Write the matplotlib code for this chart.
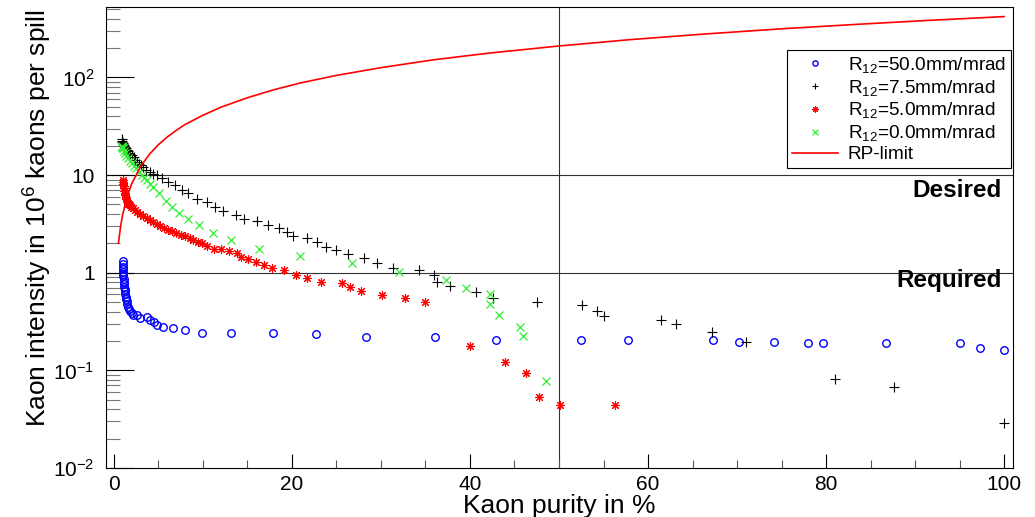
import numpy as np
import matplotlib
matplotlib.use("Agg")
import matplotlib.pyplot as plt
from matplotlib.ticker import FixedLocator, FixedFormatter, MultipleLocator, NullFormatter

plt.rcParams['font.family'] = ['Liberation Sans', 'DejaVu Sans']
plt.rcParams['mathtext.fontset'] = 'custom'
plt.rcParams['mathtext.rm'] = 'Liberation Sans'
plt.rcParams['mathtext.it'] = 'Liberation Sans:italic'
plt.rcParams['mathtext.bf'] = 'Liberation Sans:bold'

# R12 = 50.0 mm/mrad
p50 = [0.98, 0.99, 1.0, 1.01, 1.02, 1.03, 1.05, 1.08, 1.1, 1.13, 1.17, 1.2, 1.24, 1.28, 1.33, 1.38,
       1.42, 1.5, 1.6, 1.7, 1.85, 2.0, 2.17, 2.55, 2.9, 3.7, 4.0, 4.5, 4.8, 5.5, 6.6, 8.0, 9.85,
       13.1, 17.9, 22.7, 28.3, 36.1, 42.9, 52.5, 57.8, 67.3, 70.2, 74.1, 78.0, 79.7, 86.7, 95.1,
       97.3, 100.0]
v50 = [1.31, 1.22, 1.15, 1.08, 1.02, 0.97, 0.92, 0.86, 0.81, 0.76, 0.72, 0.68, 0.65, 0.6, 0.57, 0.54,
       0.51, 0.48, 0.45, 0.43, 0.41, 0.39, 0.37, 0.37, 0.34, 0.35, 0.33, 0.31, 0.29, 0.277, 0.27, 0.258, 0.24,
       0.24, 0.24, 0.233, 0.22, 0.22, 0.207, 0.206, 0.203, 0.203, 0.194, 0.194, 0.19, 0.19, 0.19, 0.19,
       0.171, 0.16]

# R12 = 7.5 mm/mrad
p75 = [0.86, 0.9, 0.95, 1.0, 1.05, 1.1, 1.15, 1.2, 1.3, 1.42, 1.55, 1.7, 1.85, 2.0, 2.2,
       2.4, 2.55, 2.8, 3.05, 3.3, 3.65, 4.04, 4.4, 4.8, 5.36, 6.1, 6.85, 7.6, 8.35, 9.3,
       10.4, 11.35, 12.3, 13.7, 14.6, 16.1, 17.3, 18.5, 19.4, 20.1, 21.7, 22.8, 23.8, 24.9, 26.3,
       28.1, 29.6, 31.3, 34.3, 36.0, 36.3, 37.7, 40.7, 42.6, 47.5, 52.6, 54.3, 55.0, 61.5, 63.2,
       67.2, 71.0, 81.0, 87.6, 100.0]
v75 = [23.5, 22.5, 22.0, 21.5, 21.0, 20.3, 19.8, 19.3, 18.8, 18.2, 17.5, 16.8, 16.4, 16.1, 15.2,
       14.4, 13.7, 13.0, 12.6, 12.2, 11.4, 10.8, 10.3, 10.0, 9.25, 8.5, 7.9, 7.1, 6.6, 5.75,
       5.3, 4.7, 4.3, 3.87, 3.57, 3.36, 3.1, 2.89, 2.6, 2.4, 2.28, 2.05, 1.85, 1.71, 1.56,
       1.4, 1.26, 1.12, 1.07, 0.95, 0.81, 0.73, 0.64, 0.55, 0.506, 0.465, 0.41, 0.36, 0.33, 0.30,
       0.25, 0.193, 0.082, 0.068, 0.0286]

# R12 = 5.0 mm/mrad
p5 = [1.0, 1.03, 1.05, 1.08, 1.12, 1.16, 1.2, 1.24, 1.3, 1.36, 1.42, 1.5, 1.6, 1.7, 1.8,
      1.95, 2.1, 2.36, 2.6, 2.9, 3.3, 3.67, 4.0, 4.4, 4.8, 5.17, 5.6, 6.1, 6.5, 7.0,
      7.5, 8.0, 8.5, 8.9, 9.4, 9.85, 10.5, 11.2, 12.0, 12.95, 13.8, 14.3, 15.1, 16.0, 16.9,
      17.8, 19.1, 20.4, 21.7, 23.3, 25.6, 26.5, 27.8, 30.1, 32.7, 35.0, 40.0, 43.9, 46.3, 47.8,
      50.1, 56.3]
v5 = [8.9, 8.5, 8.1, 7.7, 7.3, 6.9, 6.5, 6.2, 5.9, 5.7, 5.5, 5.3, 5.1, 5.0, 4.9,
      4.7, 4.6, 4.43, 4.2, 4.03, 3.85, 3.66, 3.5, 3.3, 3.15, 2.98, 2.85, 2.75, 2.65, 2.54,
      2.45, 2.35, 2.25, 2.17, 2.08, 2.0, 1.88, 1.75, 1.75, 1.66, 1.58, 1.46, 1.38, 1.30, 1.2,
      1.13, 1.07, 0.95, 0.88, 0.81, 0.78, 0.71, 0.65, 0.59, 0.55, 0.50, 0.177, 0.121, 0.093, 0.053,
      0.0439, 0.0439]

# R12 = 0.0 mm/mrad
p0 = [0.86, 0.9, 0.95, 1.0, 1.05, 1.12, 1.24, 1.4, 1.6, 1.8, 2.0, 2.2, 2.47, 2.8, 3.1,
      3.4, 3.67, 4.0, 4.4, 5.1, 5.84, 6.5, 7.3, 8.35, 9.6, 11.1, 13.1, 16.3, 20.9, 26.8,
      32.0, 37.3, 39.6, 42.2, 42.2, 43.3, 45.6, 46.0, 48.5]
v0 = [20.0, 19.5, 19.2, 19.0, 18.8, 17.8, 16.7, 15.8, 14.9, 14.0, 13.2, 12.4, 11.7, 10.8, 10.0,
      9.4, 8.9, 8.2, 7.5, 6.6, 5.4, 4.7, 4.1, 3.58, 3.05, 2.56, 2.14, 1.75, 1.5, 1.26,
      1.02, 0.85, 0.70, 0.60, 0.48, 0.37, 0.28, 0.224, 0.078]

# RP-limit curve
p_rp = [0.5, 0.75, 1, 1.5, 2, 3, 4, 5, 6, 7, 8, 10, 12, 15, 18, 21, 25, 30, 36, 42, 50,
        58, 66, 75, 83, 91, 100]
v_rp = [2.0, 3.0, 4.0, 6.1, 8.2, 12.3, 16.4, 20.5, 24.6, 28.7, 33, 41, 49.5, 62, 75, 88, 105,
        126, 152, 177, 210, 244, 277, 315, 348, 382, 420]

labels = ["R$_{12}$=50.0mm/mrad", "R$_{12}$=7.5mm/mrad", "R$_{12}$=5.0mm/mrad",
          "R$_{12}$=0.0mm/mrad", "RP-limit"]

fig = plt.figure(figsize=(10.35, 5.17), dpi=100)
ax = fig.add_axes([0.1021, 0.0948, 0.8766, 0.8917])

ax.set_yscale('log')
ax.set_xlim(-0.93, 101.0)
ax.set_ylim(0.01, 527)

ax.axhline(1, color='#333333', lw=0.8, zorder=1)
ax.axhline(10, color='#333333', lw=0.8, zorder=1)
ax.axvline(50, color='#333333', lw=0.8, zorder=1)

ax.plot(p50, v50, ls='none', marker='o', mfc='none', mec='#0000ff', mew=1.0, ms=5.4, label=labels[0])
ax.plot(p75, v75, ls='none', marker='+', color='#000000', mew=0.8, ms=7.0, label=labels[1])
ax.plot(p5, v5, ls='none', marker=(8, 2, 0), color='#ff0000', mew=0.8, ms=6.3, label=labels[2])
ax.plot(p0, v0, ls='none', marker='x', color='#33ee33', mew=0.9, ms=5.2, label=labels[3])
ax.plot(p_rp, v_rp, color='#ff0000', lw=1.2, label=labels[4])

ax.xaxis.set_major_locator(MultipleLocator(20))
ax.xaxis.set_minor_locator(MultipleLocator(5))
ax.yaxis.set_major_locator(FixedLocator([0.01, 0.1, 1, 10, 100]))
ax.yaxis.set_major_formatter(FixedFormatter(['$10^{-2}$', '$10^{-1}$', '1', '10', '$10^{2}$']))
minors = [m * 10.0 ** e for e in range(-2, 3) for m in range(2, 10)]
ax.yaxis.set_minor_locator(FixedLocator(minors))
ax.yaxis.set_minor_formatter(NullFormatter())

ax.tick_params(axis='x', which='major', direction='in', length=10, width=0.8, labelsize=15, pad=5)
ax.tick_params(axis='x', which='minor', direction='in', length=5.5, width=0.8, color='#555555')
ax.tick_params(axis='y', which='major', direction='in', length=20, width=0.8, labelsize=15, pad=8)
ax.tick_params(axis='y', which='minor', direction='in', length=10, width=0.8, color='#777777')
for s in ax.spines.values():
    s.set_linewidth(0.8)

ax.set_xlabel("Kaon purity in %", fontsize=19)
ax.set_ylabel("Kaon intensity in 10$^6$ kaons per spill", fontsize=19)
ax.xaxis.set_label_coords(0.5, -0.057)
ax.yaxis.set_label_coords(-0.057, 0.542)

ax.text(0.988, 5.97, "Desired", transform=ax.get_yaxis_transform(), ha='right', va='baseline',
        fontsize=17.5, fontweight='bold')
ax.text(0.988, 0.717, "Required", transform=ax.get_yaxis_transform(), ha='right', va='baseline',
        fontsize=17.5, fontweight='bold')

leg = ax.legend(loc='upper right', bbox_to_anchor=(0.9978, 0.9067), fontsize=13.7, frameon=True,
                fancybox=False, edgecolor='black', framealpha=1, borderaxespad=0,
                handlelength=2.4, handletextpad=0.55, labelspacing=0.15, borderpad=0.25,
                markerscale=0.7)
leg.get_frame().set_linewidth(0.8)

fig.savefig("out.png", dpi=100)
